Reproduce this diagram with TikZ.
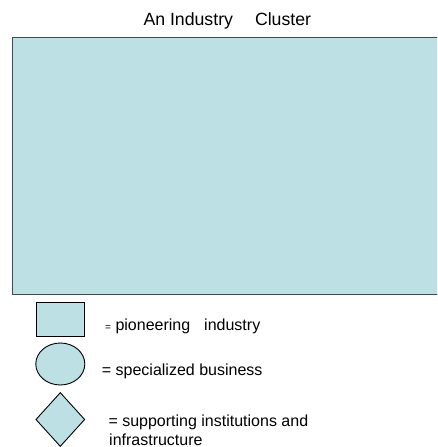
\documentclass[tikz,border=0pt]{standalone}
\usepackage{fontspec}
\setmainfont{Liberation Sans}
\usetikzlibrary{shapes.geometric}
\definecolor{clusterfill}{HTML}{BCE0E3}
\definecolor{clusterline}{HTML}{3F4C4C}
\tikzset{
  legendshape/.style={draw=black, line width=0.9pt, fill=clusterfill, inner sep=0pt},
  legendtext/.style={anchor=base west, inner sep=0pt, font=\fontsize{16}{18}\selectfont},
}
\begin{document}
\begin{tikzpicture}[x=1pt,y=-1pt]
  \useasboundingbox (0,0) rectangle (437,447);
  % title
  \node[anchor=base west, inner sep=0pt, font=\fontsize{17.7}{20}\selectfont]
    (title) at (143.3,25) {An Industry\hspace{22pt}Cluster};
  % cluster area, running off the right edge
  \begin{scope}
    \clip (0,0) rectangle (437,447);
    \draw[draw=clusterline, line width=1.3pt, fill=clusterfill]
      (12.5,37.5) rectangle (445,294.5);
  \end{scope}
  % legend symbols
  \node[legendshape, rectangle, minimum width=48.7pt, minimum height=34.7pt]
    (keyrect) at (60.3,319.3) {};
  \node[legendshape, ellipse, minimum width=49pt, minimum height=42pt]
    (keyellipse) at (60.3,364) {};
  \node[legendshape, diamond, minimum width=49pt, minimum height=54pt]
    (keydiamond) at (60.3,419.5) {};
  % legend captions
  \node[legendtext] (txtrect) at (105,330)
    {{\fontsize{10}{12}\selectfont=}\hspace{4.5pt}pioneering\hspace{14pt}industry};
  \node[legendtext] (txtellipse) at (101.7,375.5) {= specialized business};
  \node[legendtext] (txtdiamond) at (108.3,426.7) {= supporting institutions and};
  \node[legendtext] (txtdiamondb) at (109,445) {infrastructure};
\end{tikzpicture}
\end{document}
